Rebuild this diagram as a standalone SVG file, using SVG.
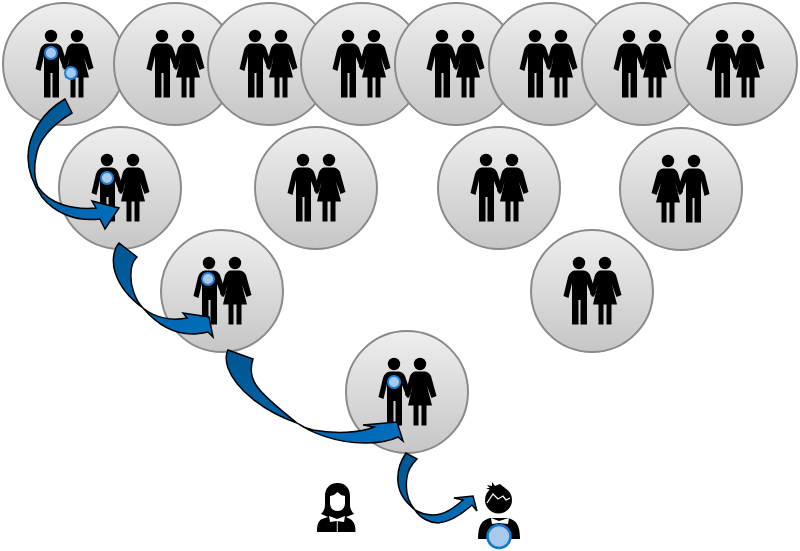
<svg xmlns="http://www.w3.org/2000/svg" width="800" height="551" viewBox="0 0 800 551">
<style>
.c{fill:url(#g);stroke:#8a8a8a;stroke-width:2}
.k{fill:#000}
.d{fill:#a8c9ee;stroke:#1f7fd4;stroke-width:2}
.a{stroke:#000;stroke-width:1.5;stroke-linejoin:miter;fill:url(#b)}
.w{fill:#fff}
</style>
<defs>
<linearGradient id="g" x1="0" y1="0" x2="0" y2="1"><stop offset="0" stop-color="#eeeeee"/><stop offset="1" stop-color="#c6c6c6"/></linearGradient>
<linearGradient id="b" x1="0" y1="0" x2="1" y2="1"><stop offset="0" stop-color="#00558f"/><stop offset="1" stop-color="#0070c0"/></linearGradient>
<g id="cp">
<g transform="translate(-64,-64)">
<circle class="k" cx="51" cy="36" r="6.200"/><circle class="k" cx="77" cy="36" r="6.200"/>
<path class="k" d="M47 43.500L56 43.500Q60 44 62 48L68 66L64 70L59 57L59 97.500L52.500 97.500L52.500 73L50.500 73L50.500 97.500L44 97.500L44 56L40.500 71L35.500 69L40 50Q42 44 47 43.500Z"/>
<path class="k" d="M72 43.500L82 43.500Q86 44 88 48L93.500 68L88.500 70L84 58L89 77.500L83.500 77.500L83.500 97.500L78.500 97.500L78.500 77.500L75.500 77.500L75.500 97.500L70.500 97.500L70.500 77.500L65 77.500L69.500 58L66 70L62 67L67 48Q69 44 72 43.500Z"/>
</g>
</g>
</defs>
<g id="n1"><circle class="c" cx="64" cy="64" r="61"/><use href="#cp" x="64" y="64"/><circle class="d" cx="51" cy="53" r="6"/><circle class="d" cx="71" cy="73" r="6"/></g>
<g id="n2"><circle class="c" cx="175" cy="64" r="61"/><use href="#cp" x="175" y="64"/></g>
<g id="n3"><circle class="c" cx="269" cy="64" r="61"/><use href="#cp" x="268" y="64"/></g>
<g id="n4"><circle class="c" cx="362" cy="64" r="61"/><use href="#cp" x="361" y="64"/></g>
<g id="n5"><circle class="c" cx="456" cy="64" r="61"/><use href="#cp" x="455" y="64"/></g>
<g id="n6"><circle class="c" cx="550" cy="64" r="61"/><use href="#cp" x="548" y="64"/></g>
<g id="n7"><circle class="c" cx="643" cy="64" r="61"/><use href="#cp" x="642" y="64"/></g>
<g id="n8"><circle class="c" cx="736" cy="64" r="61"/><use href="#cp" x="735" y="64"/></g>
<g id="n9"><circle class="c" cx="120" cy="188" r="61"/><use href="#cp" x="120" y="188"/><circle class="d" cx="107" cy="178" r="6"/></g>
<g id="n10"><circle class="c" cx="316" cy="188" r="61"/><use href="#cp" x="316" y="188"/></g>
<g id="n11"><circle class="c" cx="499" cy="188" r="61"/><use href="#cp" x="499" y="188"/></g>
<g id="n12"><circle class="c" cx="681" cy="189" r="61"/><use href="#cp" transform="translate(681,189) scale(-1,1)"/></g>
<g id="n13"><circle class="c" cx="592" cy="291" r="61"/><use href="#cp" x="592" y="291"/></g>
<g id="n14"><circle class="c" cx="222" cy="291" r="61"/><use href="#cp" x="222" y="291"/><circle class="d" cx="208" cy="279" r="6"/></g>
<g id="n15"><circle class="c" cx="407" cy="392" r="61"/><use href="#cp" x="407" y="392"/><circle class="d" cx="394" cy="382" r="6"/></g>
<g id="n16">
<path class="k" d="M337.500 483C329 483 325 489 325 496L325 505C325 509 323 512 321 514L328 517L322 519C318 521 317 525 317 532L355.500 532C355.500 525 354 521 350 519L346 517L354 514C351 511 350 508 350 504L350 496C350 489 346 483 337.500 483Z"/>
<path class="w" d="M330 496L334 495L337.500 492L341 495L345 496L345 503C345 508 342 511 337.500 511C333 511 330 508 330 503Z"/>
<path class="w" d="M329 516L337 519L345 516L344 522L337 521L330 522Z"/>
<rect class="w" x="336.800" y="521" width="0.900" height="11"/>
</g>
<g id="n17">
<circle class="k" cx="498.500" cy="500" r="13.500"/>
<path class="k" d="M486 488L490 488L487 485L492 486L492 482L495 486L500 484L505 488L498 494Z"/>
<path d="M487 503L493 494L498 499L503 496L506 500L510 498" fill="none" stroke="#fff" stroke-width="1.300"/>
<path class="k" d="M478 539C478 525 482 520 490 518L508 518C516 520 520 525 520 539Z"/>
<path class="w" d="M491 518L499 521L509 518L508 524L499 523L492 524Z"/>
<circle class="d" cx="499" cy="536.500" r="11.500" style="stroke-width:2.500;stroke:#1478c8"/>
</g>
<g id="connectors">
<path class="a" d="M65 99C43 112 28 134 28 157C28 172 33 184 42 197C54 212 74 222 100 219L105 229L119 208L92 201L96 208C75 210 50 205 38 187C34 178 34 165 36 157C38 140 52 125 72 113Z"/>
<path class="a" d="M119 243C113 250 112 262 115 272C120 288 132 300 143 308C155 322 172 334 192 334C198 334 203 333 208 332L213 337L209 317L183 313L187 318C172 321 155 318 143 308C135 300 130 285 131 273C131 266 134 260 137 257Z"/>
<path class="a" d="M228 350C225 356 226 362 228 368C236 390 265 412 297 423C310 432 335 443 365 443C378 443 390 441 398 437L403 441L397 422L363 425L374 427C360 433 335 434 313 430C305 428 300 425 297 423C278 408 262 395 256 385C251 377 250 368 253 359Z"/>
<path class="a" d="M406 453C400 462 397 472 398 482C399 495 407 503 415 510C420 518 430 523 438 523C450 522 462 514 472 505L477 511L473 496L454 498L463 500C455 507 445 515 433 515C425 515 420 513 415 510C408 502 405 490 407 477C408 470 412 464 417 459Z"/>
</g>
</svg>
